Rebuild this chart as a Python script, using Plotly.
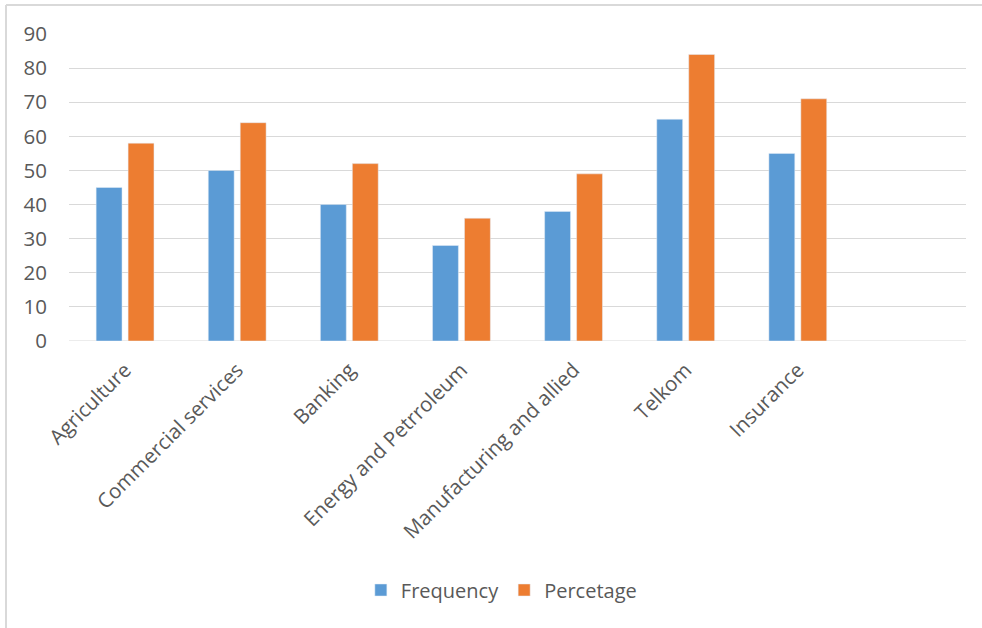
import plotly.graph_objects as go

categories = ["Agriculture", "Commercial services", "Banking", "Energy and Petrroleum",
              "Manufacturing and allied", "Telkom", "Insurance"]
frequency = [45, 50, 40, 28, 38, 65, 55]
percentage = [58, 64, 52, 36, 49, 84, 71]
y_ticks = [0, 10, 20, 30, 40, 50, 60, 70, 80, 90]

W, H = 982, 628
L, R, T, B = 69, 16, 34, 287
pw, ph = W - L - R, H - T - B

def px(x):
    return (x - L) / pw

def py(y):
    return (H - B - y) / ph

FONT = "Open Sans"
TXT = "#595959"

fig = go.Figure()
fig.add_trace(go.Bar(name="Frequency", x=categories, y=frequency, marker_color="#5B9BD5"))
fig.add_trace(go.Bar(name="Percetage", x=categories, y=percentage, marker_color="#ED7D31"))

fig.update_layout(
    width=W, height=H,
    margin=dict(l=L, r=R, t=T, b=B),
    paper_bgcolor="white", plot_bgcolor="white",
    barmode="group", bargap=0.43, bargroupgap=0.19,
    font=dict(family=FONT, color=TXT, size=17),
    legend=dict(orientation="h", x=0.482, xanchor="center", y=py(590), yanchor="middle",
                font=dict(size=20, color=TXT), itemwidth=30, traceorder="normal"),
    xaxis=dict(range=[-0.5, 7.5], tickangle=-45, showgrid=False, zeroline=False,
               showline=False, ticks="", ticklabelstandoff=12,
               tickfont=dict(size=20.5, color=TXT)),
    yaxis=dict(range=[0, 90], tickvals=y_ticks, showgrid=True, gridcolor="#D9D9D9",
               gridwidth=1, zeroline=False, showline=False, ticks="", ticklabelstandoff=21,
               tickfont=dict(size=20.5, color=TXT)),
    shapes=[
        dict(type="line", xref="paper", yref="paper", x0=px(6), x1=px(982), y0=py(5), y1=py(5),
             line=dict(color="#D9D9D9", width=2)),
        dict(type="line", xref="paper", yref="paper", x0=px(6), x1=px(6), y0=py(5), y1=py(628),
             line=dict(color="#D9D9D9", width=2)),
        dict(type="line", xref="paper", yref="y", x0=0, x1=1, y0=0, y1=0,
             line=dict(color="#D9D9D9", width=1), layer="below"),
    ],
)

fig.write_html("out.html")
